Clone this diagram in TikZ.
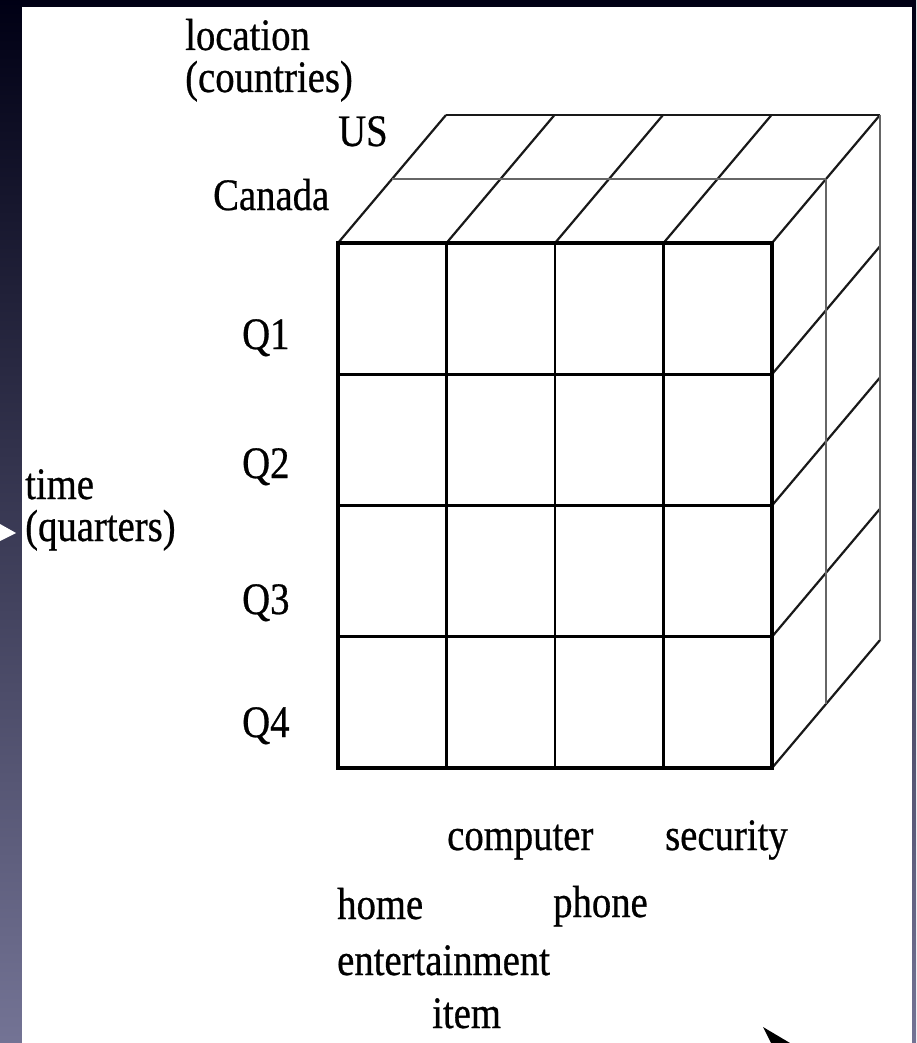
\documentclass[tikz,border=0pt]{standalone}
\usepackage{fontspec}
\setmainfont[FakeStretch=0.86,FakeBold=0.6]{Liberation Serif}
\begin{document}
\begin{tikzpicture}[x=1pt,y=-1pt,
  lbl/.style={anchor=base west,inner sep=0pt,font=\fontsize{45}{47}\selectfont,text=black},
  frontouter/.style={line width=4.5pt,black},
  frontinner/.style={line width=2.6pt,black},
  diag/.style={line width=2.2pt,black!90},
  layer/.style={line width=2.8pt,black!60}]
\useasboundingbox (0,0) rectangle (916,1043);
\shade[top color=black!80!blue!40!black, bottom color=blue!25!black!55!white!95!gray] (0,0) rectangle (916,1043);
\fill[white] (22,7) rectangle (912,1043);
% top face
\foreach \x in {338,446.5,555,663.5,772}
  \draw[diag] (\x,243) -- ++(108,-128);
\draw[layer] (392,179) -- (826,179);
\draw[diag,line width=2.6pt] (446,115) -- (880,115);
% right face
\foreach \y in {374.25,505.5,636.75,768}
  \draw[diag] (772,\y) -- ++(108,-128);
\draw[layer] (826,179) -- (826,704);
\draw[layer] (880,115) -- (880,640);
% front face
\foreach \x in {446.5,555,663.5}
  \draw[frontinner] (\x,243) -- (\x,768);
\foreach \y in {374.25,505.5,636.75}
  \draw[frontinner] (338,\y) -- (772,\y);
\draw[frontouter] (338,243) rectangle (772,768);
% labels
\node[lbl] (loc) at (185,50) {location};
\node[lbl] (cty) at (185,92) {(countries)};
\node[lbl] (us) at (338,146) {US};
\node[lbl] (ca) at (213,210) {Canada};
\node[lbl] (q1) at (242,349) {Q1};
\node[lbl] (q2) at (242,478) {Q2};
\node[lbl] (q3) at (242,614) {Q3};
\node[lbl] (q4) at (242,737) {Q4};
\node[lbl] (time) at (25,499) {time};
\node[lbl] (qrt) at (25,541) {(quarters)};
\node[lbl] (comp) at (447,850) {computer};
\node[lbl] (sec) at (665,850) {security};
\node[lbl] (home) at (337,919) {home};
\node[lbl] (phone) at (553,917) {phone};
\node[lbl] (ent) at (337,975) {entertainment};
\node[lbl] (item) at (432,1028) {item};
% cut-off arrow tips
\fill[white] (0,524) -- (16,533) -- (0,541) -- cycle;
\fill[black] (763,1027) -- (790,1043) -- (771,1043) -- cycle;
\end{tikzpicture}
\end{document}
